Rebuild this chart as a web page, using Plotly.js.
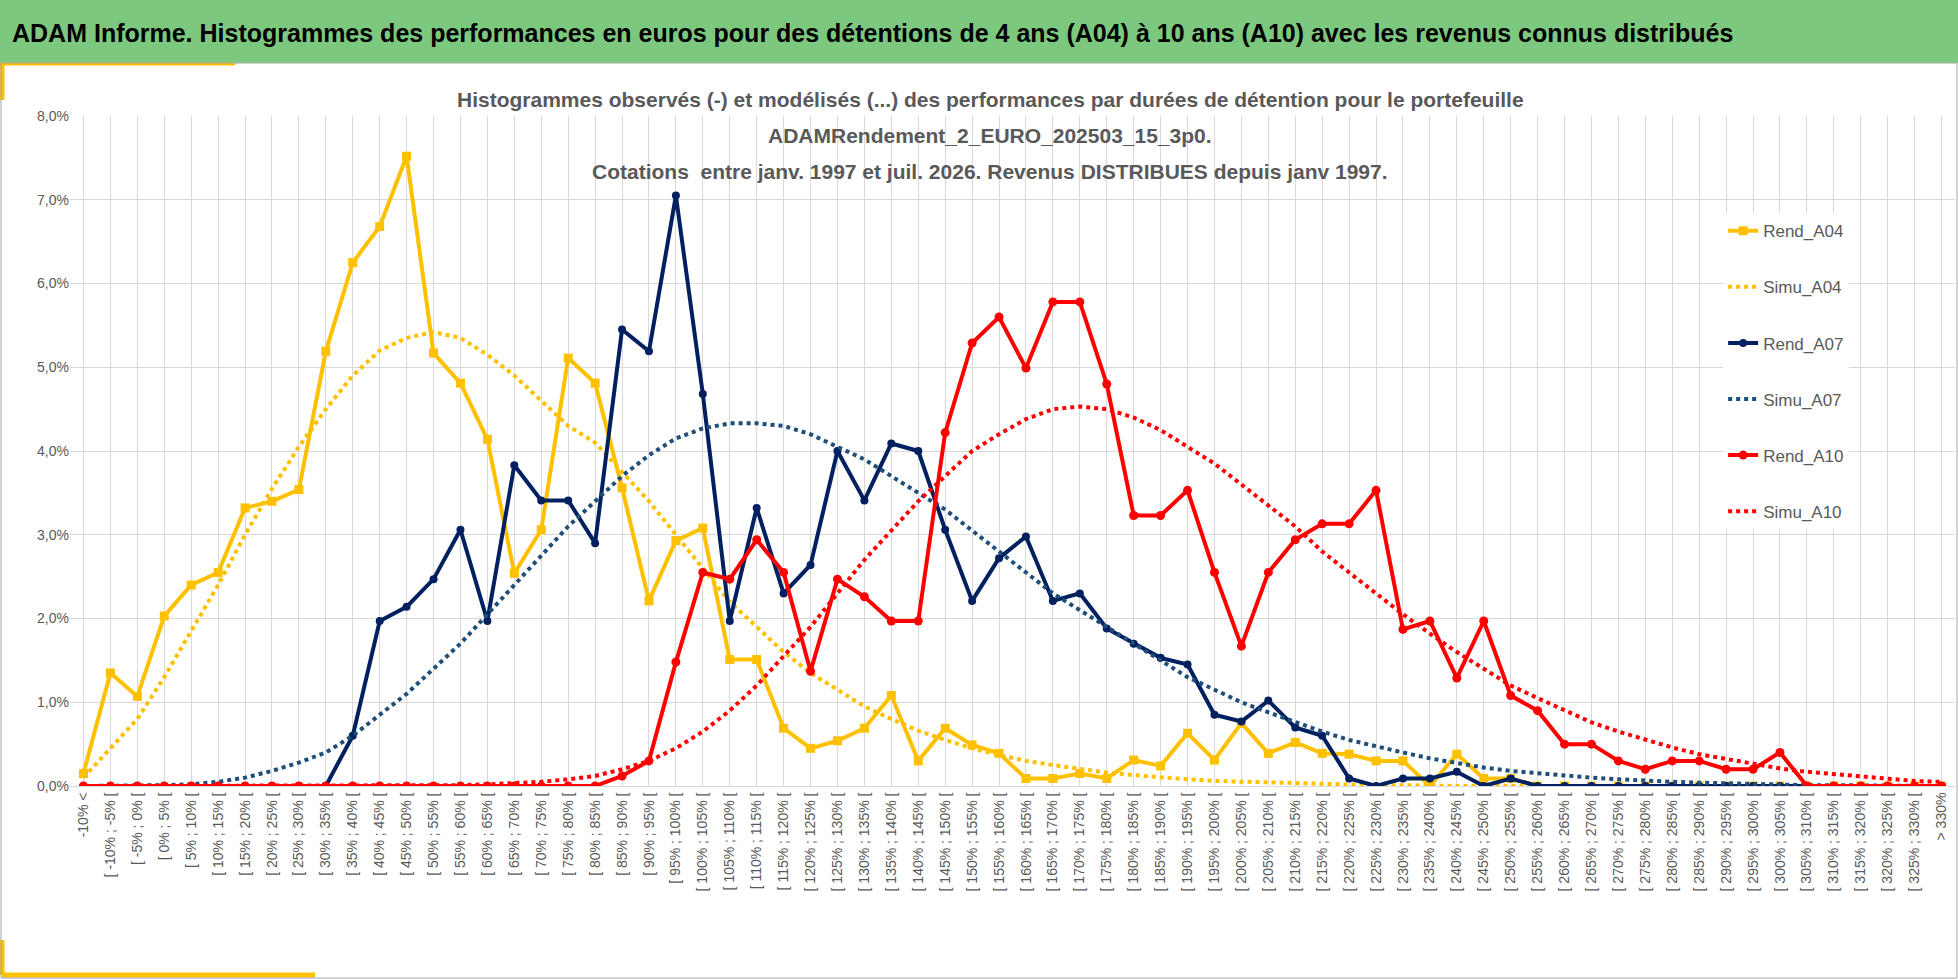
<!DOCTYPE html>
<html>
<head>
<meta charset="utf-8">
<script src="https://cdn.plot.ly/plotly-3.0.1.min.js"></script>
<style>
  html, body { margin:0; padding:0; background:white; }
  #chart { width:1958px; height:979px; }
</style>
</head>
<body>
<div id="chart"></div>
<script>
// categories: -10% < , [ -10% ; -5% [ ... [ 325% ; 330% [ , > 330%
const categories = ['-10% <'];
for (let a = -10; a <= 325; a += 5) categories.push('[ ' + a + '% ; ' + (a + 5) + '% [');
categories.push('> 330%');

// values in %
const rendA04 = [0.15,1.35,1.07,2.03,2.4,2.55,3.32,3.4,3.54,5.19,6.25,6.68,7.52,5.17,4.81,4.14,2.54,3.06,5.11,4.81,
  3.56,2.21,2.93,3.08,1.51,1.51,0.69,0.45,0.54,0.69,1.08,0.3,0.69,0.49,0.39,0.09,0.09,0.15,0.09,0.31,
  0.24,0.63,0.31,0.75,0.39,0.52,0.39,0.38,0.3,0.3,0,0.38,0.09,0.09,0,0,0,0,0,0,
  0,0,0,0,0,0,0,0,0,0];
const simuA04 = [0.1,0.45,0.8,1.3,1.85,2.4,3.0,3.55,4.05,4.5,4.9,5.2,5.35,5.42,5.35,5.15,4.9,4.6,4.3,4.1,
  3.75,3.4,3.0,2.6,2.2,1.9,1.6,1.35,1.15,0.95,0.8,0.66,0.55,0.45,0.37,0.3,0.25,0.2,0.16,0.13,
  0.1,0.08,0.06,0.05,0.04,0.03,0.02,0.01,0.01,0.01,0,0,0,0,0,0,0,0,0,0,
  0,0,0,0,0,0,0,0,0,0];
const rendA07 = [0,0,0,0,0,0,0,0,0,0,0.6,1.97,2.14,2.47,3.06,1.97,3.83,3.41,3.41,2.9,
  5.45,5.19,7.05,4.68,1.97,3.32,2.3,2.64,4.0,3.41,4.09,4.0,3.06,2.21,2.72,2.98,2.21,2.3,1.88,1.7,
  1.53,1.45,0.85,0.77,1.02,0.7,0.6,0.09,0,0.09,0.09,0.17,0,0.09,0,0,0,0,0,0,
  0,0,0,0,0,0,0,0,0,0];
const simuA07 = [0,0,0.01,0.01,0.02,0.05,0.1,0.18,0.28,0.4,0.6,0.85,1.1,1.4,1.7,2.05,2.4,2.75,3.1,3.4,
  3.7,3.95,4.15,4.27,4.33,4.33,4.3,4.2,4.05,3.9,3.7,3.5,3.3,3.05,2.8,2.55,2.3,2.1,1.9,1.7,
  1.5,1.3,1.15,1.0,0.88,0.76,0.65,0.55,0.47,0.4,0.33,0.27,0.22,0.18,0.15,0.12,0.1,0.08,0.06,0.05,
  0.04,0.03,0.02,0.02,0.01,0.01,0.01,0,0,0];
const rendA10 = [0,0,0,0,0,0,0,0,0,0,0,0,0,0,0,0,0,0,0,0,
  0.12,0.3,1.48,2.55,2.47,2.94,2.55,1.37,2.47,2.26,1.97,1.97,4.22,5.29,5.6,4.99,5.78,5.78,4.8,3.23,
  3.23,3.53,2.55,1.67,2.55,2.94,3.13,3.13,3.53,1.87,1.97,1.29,1.97,1.08,0.9,0.5,0.5,0.3,0.2,0.3,
  0.3,0.2,0.2,0.4,0,0,0,0,0,0];
const simuA10 = [0,0,0,0,0,0,0,0,0,0,0,0,0,0,0.01,0.02,0.03,0.05,0.08,0.12,
  0.2,0.3,0.45,0.65,0.9,1.2,1.55,1.9,2.3,2.7,3.05,3.4,3.7,4.0,4.2,4.38,4.5,4.53,4.5,4.4,
  4.25,4.05,3.85,3.6,3.35,3.1,2.8,2.55,2.3,2.05,1.82,1.6,1.4,1.2,1.05,0.9,0.76,0.65,0.55,0.46,
  0.38,0.32,0.26,0.21,0.17,0.14,0.11,0.08,0.06,0.05];

const titleLines = [
  'Histogrammes observés (-) et modélisés (...) des performances par durées de détention pour le portefeuille',
  'ADAMRendement_2_EURO_202503_15_3p0.',
  'Cotations  entre janv. 1997 et juil. 2026. Revenus DISTRIBUES depuis janv 1997.'
];

const yellow = '#FFC000', navy = '#002060', navyDot = '#1F4E79', red = '#FF0000';
const pct = arr => arr.map(v => v / 100);

function solid(name, vals, color, symbol, size, grp) {
  return { x: categories, y: pct(vals), name, mode: 'lines+markers', legendgroup: grp,
    line: { color, width: 4 }, marker: { color, symbol, size } };
}
function dotted(name, vals, color, grp) {
  return { x: categories, y: pct(vals), name, mode: 'lines', legendgroup: grp,
    line: { color, width: 4, dash: 'dot' } };
}

const traces = [
  solid('Rend_A04', rendA04, yellow, 'square', 9, 'a'),
  dotted('Simu_A04', simuA04, yellow, 'b'),
  solid('Rend_A07', rendA07, navy, 'circle', 8, 'c'),
  dotted('Simu_A07', simuA07, navyDot, 'd'),
  solid('Rend_A10', rendA10, red, 'circle', 9, 'e'),
  dotted('Simu_A10', simuA10, red, 'f'),
];

// paper helpers: pixel -> paper fraction (plot area 70..1955 x, 116..786 y)
const px = p => (p - 70) / 1885;
const py = p => (786 - p) / 670;

const font = 'Liberation Sans, Arial, sans-serif';
const titleY = [100, 135, 171];
const layout = {
  width: 1958, height: 979,
  margin: { l: 70, r: 3, t: 116, b: 193 },
  paper_bgcolor: 'white', plot_bgcolor: 'white',
  font: { family: font, color: '#595959' },
  showlegend: true,
  legend: { x: 0.877, y: 0.855, xanchor: 'left', yanchor: 'top', bgcolor: 'white',
    tracegroupgap: 31, traceorder: 'grouped', font: { size: 17, color: '#595959' } },
  xaxis: { type: 'category', range: [-0.5, 69.5], tickangle: -90, showgrid: true,
    gridcolor: '#d9d9d9', tickfont: { size: 14, color: '#595959', family: font },
    showline: true, linecolor: '#d9d9d9', ticks: '' },
  yaxis: { range: [0, 0.08], dtick: 0.01, tickformat: '.1%',
    gridcolor: '#d9d9d9', zeroline: false, tickfont: { size: 14, color: '#595959', family: font } },
  separators: ', ',
  shapes: [
    { type: 'rect', xref: 'paper', yref: 'paper', x0: px(0), x1: px(1958), y0: py(63), y1: py(0),
      fillcolor: '#7DC87F', line: { width: 0 }, layer: 'below' },
    { type: 'line', xref: 'paper', yref: 'paper', x0: px(0), x1: px(235), y0: py(64), y1: py(64),
      line: { color: yellow, width: 3 } },
    { type: 'line', xref: 'paper', yref: 'paper', x0: px(2), x1: px(2), y0: py(64), y1: py(100),
      line: { color: yellow, width: 5 } },
    { type: 'line', xref: 'paper', yref: 'paper', x0: px(2), x1: px(315), y0: py(975), y1: py(975),
      line: { color: yellow, width: 5 } },
    { type: 'line', xref: 'paper', yref: 'paper', x0: px(2), x1: px(2), y0: py(975), y1: py(940),
      line: { color: yellow, width: 5 } },
    { type: 'rect', xref: 'paper', yref: 'paper', x0: px(1), x1: px(1957), y0: py(978), y1: py(63),
      line: { color: '#a6a6a6', width: 1 } }
  ],
  annotations: [
    { xref: 'paper', yref: 'paper', x: px(10), y: py(33), xanchor: 'left', yanchor: 'middle',
      showarrow: false, text: '<b>ADAM Informe. Histogrammes des performances en euros pour des détentions de 4 ans (A04) à 10 ans (A10) avec les revenus connus distribués</b>',
      font: { size: 25, color: 'black', family: font } }
  ].concat(titleLines.map((t, i) => ({
    xref: 'paper', yref: 'paper', x: px(990), y: py(titleY[i]), xanchor: 'center', yanchor: 'middle',
    showarrow: false, text: '<b>' + t + '</b>', font: { size: 21, color: '#595959', family: font }
  })))
};

Plotly.newPlot('chart', traces, layout, { displayModeBar: false });
</script>
</body>
</html>
